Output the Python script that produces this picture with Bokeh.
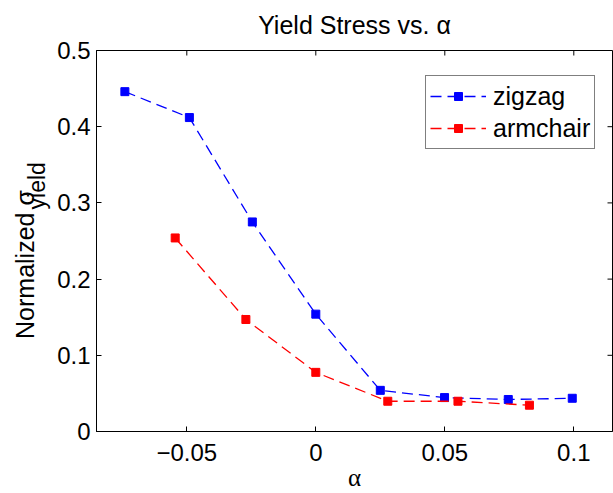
import math
from bokeh.plotting import figure
from bokeh.layouts import row
from bokeh.models import Range1d, FixedTicker, Legend, LegendItem, Label
from bokeh.embed import file_html
from bokeh.resources import INLINE

# ---- data ----
zigzag_alpha = [-0.074, -0.049, -0.0246, 0.0, 0.025, 0.0499, 0.0746, 0.0994]
zigzag_sigma = [0.446, 0.412, 0.275, 0.154, 0.054, 0.0445, 0.042, 0.0436]
armchair_alpha = [-0.0545, -0.0271, 0.0, 0.0279, 0.0551, 0.0828]
armchair_sigma = [0.254, 0.147, 0.0776, 0.0397, 0.0397, 0.0345]

x_ticks = [-0.05, 0, 0.05, 0.1]
x_tick_labels = ["\u22120.05", "0", "0.05", "0.1"]
y_ticks = [0, 0.1, 0.2, 0.3, 0.4, 0.5]
y_tick_labels = ["0", "0.1", "0.2", "0.3", "0.4", "0.5"]

series_names = ["zigzag", "armchair"]
series_colors = ["#0000ff", "#ff0000"]

title_text = "Yield Stress vs. \u03b1"
xlabel_text = "\u03b1"
ylabel_main = "Normalized \u03c3"
ylabel_sub = "yield"

# ---- layout ----
FONT = "Liberation Sans"
W, H = 613, 493
LW = 54                     # width of the strip holding the y label
MW = W - LW                 # width of the main figure
BL, BR, BT, BB = 39, 1, 50, 56
X0, X1 = -0.085, 0.115
Y0, Y1 = 0.0, 0.5

# ---- y-label strip (its frame is the whole strip, 1 unit = 1 px) ----
lab = figure(width=LW, height=H, x_range=Range1d(0, LW), y_range=Range1d(0, H),
             output_backend="svg", toolbar_location=None,
             x_axis_type=None, y_axis_type=None, min_border=0)
lab.outline_line_color = None
lab.grid.visible = False
lab.background_fill_color = "white"
lab.border_fill_color = "white"
lab.add_layout(Label(x=24.5, y=H - 277, text=ylabel_main, angle=math.pi / 2,
                     text_font=FONT, text_font_size="25px", text_align="center",
                     text_baseline="middle", text_color="black"))
lab.add_layout(Label(x=36, y=H - 175, text=ylabel_sub, angle=math.pi / 2,
                     text_font=FONT, text_font_size="23px", text_align="center",
                     text_baseline="middle", text_color="black"))

# ---- main plot ----
p = figure(width=MW, height=H, x_range=Range1d(X0, X1), y_range=Range1d(Y0, Y1),
           output_backend="svg", toolbar_location=None,
           min_border_left=BL, min_border_right=BR, min_border_top=BT, min_border_bottom=BB)
p.background_fill_color = "white"
p.border_fill_color = "white"
p.outline_line_color = "black"
p.outline_line_width = 1
p.grid.visible = False

p.title.text = title_text
p.title.align = "center"
p.title.vertical_align = "top"
p.title.text_font = FONT
p.title.text_font_size = "25px"
p.title.text_font_style = "normal"
p.title.text_color = "black"
p.title.standoff = 19

xt = FixedTicker(ticks=x_ticks)
yt = FixedTicker(ticks=y_ticks)

for ax in p.xaxis:
    ax.ticker = xt
    ax.major_label_overrides = {k: v for k, v in zip(x_ticks, x_tick_labels)}
    ax.major_label_standoff = 12
    ax.axis_label = xlabel_text
    ax.axis_label_text_font = "Liberation Serif"
    ax.axis_label_text_font_size = "25px"
    ax.axis_label_text_font_style = "normal"
    ax.axis_label_text_color = "black"
    ax.axis_label_standoff = 0
for ax in p.yaxis:
    ax.ticker = yt
    ax.major_label_overrides = {k: v for k, v in zip(y_ticks, y_tick_labels)}
    ax.major_label_standoff = 6

for ax in list(p.xaxis) + list(p.yaxis):
    ax.major_tick_in = 5
    ax.major_tick_out = 0
    ax.minor_tick_in = 0
    ax.minor_tick_out = 0
    ax.axis_line_color = "black"
    ax.major_tick_line_color = "black"
    ax.major_label_text_font = FONT
    ax.major_label_text_font_size = "24px"
    ax.major_label_text_color = "black"

# mirrored inward ticks on the top and right edges of the box
p.ray(x=x_ticks, y=[Y1] * len(x_ticks), length=5, angle=-math.pi / 2,
      length_units="screen", line_color="black", line_width=1)
p.ray(x=[X1] * len(y_ticks), y=y_ticks, length=5, angle=math.pi,
      length_units="screen", line_color="black", line_width=1)

items = []
for name, xs, ys, col in ((series_names[0], zigzag_alpha, zigzag_sigma, series_colors[0]),
                          (series_names[1], armchair_alpha, armchair_sigma, series_colors[1])):
    ln = p.line(xs, ys, line_color=col, line_dash="11 6", line_width=1.3)
    sc = p.scatter(xs, ys, marker="square", size=8, fill_color=col, line_color=col)
    items.append(LegendItem(label=name, renderers=[ln, sc]))

FW = MW - BL - BR
FH = H - BT - BB
legend = Legend(items=items, location=(FW - 22 - 168, FH - 28 - 77))
legend.label_text_font = FONT
legend.label_text_font_size = "25px"
legend.label_text_color = "black"
legend.glyph_width = 56
legend.glyph_height = 20
legend.label_height = 32
legend.label_standoff = 7
legend.padding = 4
legend.spacing = 0
legend.border_line_color = "black"
legend.border_line_width = 1
legend.background_fill_color = "white"
legend.background_fill_alpha = 1
p.add_layout(legend)

page = row(lab, p, spacing=0)
open("out.html", "w").write(file_html(page, INLINE))
